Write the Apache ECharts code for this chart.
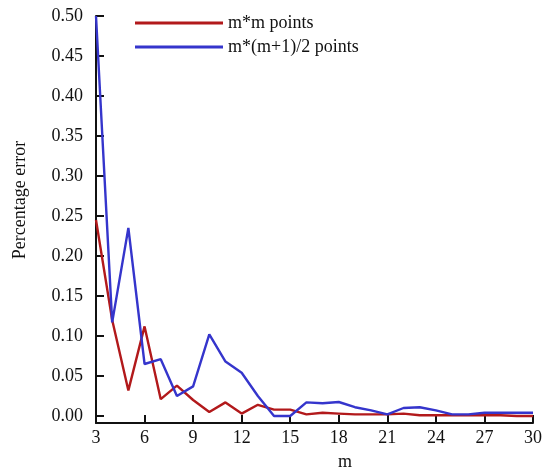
<!DOCTYPE html>
<html>
<head>
<meta charset="utf-8">
<script src="https://cdn.jsdelivr.net/npm/echarts@6/dist/echarts.min.js"></script>
<style>
  html, body { margin: 0; padding: 0; background: #fff; }
  #chart { width: 545px; height: 472px; }
</style>
</head>
<body>
<div id="chart"></div>
<script>
// Grid size m on the x axis
const mValues = [3, 4, 5, 6, 7, 8, 9, 10, 11, 12, 13, 14, 15, 16, 17, 18, 19, 20, 21, 22, 23, 24, 25, 26, 27, 28, 29, 30];

// Percentage error for the full m*m point set
const squareErrors = [0.245, 0.12, 0.032, 0.112, 0.021, 0.038, 0.02, 0.005, 0.017, 0.003, 0.014, 0.008, 0.008, 0.002, 0.004, 0.003, 0.002, 0.002, 0.002, 0.003, 0.001, 0.001, 0.001, 0.001, 0.001, 0.001, 0.0, 0.0];

// Percentage error for the triangular m*(m+1)/2 point set
const triangleErrors = [0.5, 0.117, 0.235, 0.065, 0.071, 0.025, 0.037, 0.102, 0.068, 0.054, 0.025, 0.0, 0.0, 0.017, 0.016, 0.0175, 0.011, 0.007, 0.002, 0.01, 0.011, 0.007, 0.002, 0.002, 0.004, 0.004, 0.004, 0.004];

// Tick labels
const yTicks = [0, 0.05, 0.1, 0.15, 0.2, 0.25, 0.3, 0.35, 0.4, 0.45, 0.5];
const xTicks = [3, 6, 9, 12, 15, 18, 21, 24, 27, 30];

const seriesNames = ['m*m points', 'm*(m+1)/2 points'];

const serif = '"Liberation Serif", "Times New Roman", serif';
const axisBlack = '#111';

const chart = echarts.init(document.getElementById('chart'), null, { renderer: 'canvas' });

const pair = (ys) => mValues.map((m, i) => [m, ys[i]]);

chart.setOption({
  animation: false,
  backgroundColor: '#fff',
  grid: { left: 96, right: 11, top: 16, bottom: 49, containLabel: false },
  legend: {
    orient: 'vertical',
    left: 130,
    top: 9,
    itemWidth: 88,
    itemHeight: 3,
    itemGap: 6,
    icon: 'rect',
    textStyle: { fontFamily: serif, fontSize: 18, color: '#111', lineHeight: 18 },
    data: seriesNames
  },
  xAxis: {
    type: 'value',
    min: xTicks[0],
    max: xTicks[xTicks.length - 1],
    interval: 3,
    axisLine: { onZero: false, lineStyle: { color: axisBlack, width: 2 } },
    axisTick: { inside: true, length: 8, lineStyle: { color: axisBlack, width: 2 } },
    axisLabel: { margin: 6, fontFamily: serif, fontSize: 18, color: '#111' },
    splitLine: { show: false }
  },
  yAxis: {
    type: 'value',
    min: -0.00875,
    max: 0.5,
    axisLine: { show: true, onZero: false, lineStyle: { color: axisBlack, width: 2 } },
    axisTick: { show: true, inside: true, length: 8, customValues: yTicks, lineStyle: { color: axisBlack, width: 2 } },
    axisLabel: {
      margin: 13,
      customValues: yTicks,
      formatter: (v) => v.toFixed(2),
      fontFamily: serif, fontSize: 18, color: '#111'
    },
    splitLine: { show: false }
  },
  graphic: [
    {
      type: 'text',
      x: 20, y: 200,
      rotation: Math.PI / 2,
      style: {
        text: 'Percentage error',
        font: '18px ' + serif,
        fill: '#111',
        align: 'center',
        verticalAlign: 'middle'
      }
    },
    {
      type: 'text',
      x: 345, y: 462,
      style: {
        text: 'm',
        font: '18px ' + serif,
        fill: '#111',
        align: 'center',
        verticalAlign: 'middle'
      }
    }
  ],
  series: [
    {
      name: seriesNames[0],
      type: 'line',
      data: pair(squareErrors),
      showSymbol: false,
      symbol: 'none',
      lineStyle: { color: '#b2191b', width: 2.4 },
      itemStyle: { color: '#b2191b' }
    },
    {
      name: seriesNames[1],
      type: 'line',
      data: pair(triangleErrors),
      showSymbol: false,
      symbol: 'none',
      lineStyle: { color: '#3535cc', width: 2.4 },
      itemStyle: { color: '#3535cc' }
    }
  ]
});
</script>
</body>
</html>
